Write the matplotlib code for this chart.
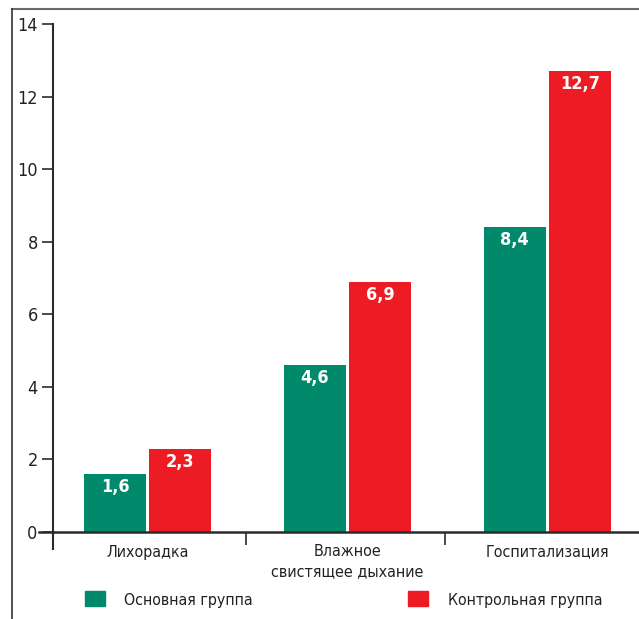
import matplotlib
matplotlib.use("Agg")
import matplotlib.pyplot as plt
from matplotlib.lines import Line2D
import numpy as np

categories = ["Лихорадка", "Влажное\nсвистящее дыхание", "Госпитализация"]
main_group = [1.6, 4.6, 8.4]
control_group = [2.3, 6.9, 12.7]
main_labels = ["1,6", "4,6", "8,4"]
control_labels = ["2,3", "6,9", "12,7"]
series_names = ["Основная группа", "Контрольная группа"]
yticks = [0, 2, 4, 6, 8, 10, 12, 14]

GREEN = "#00896B"
RED = "#ED1C24"
AXC = "#2b2b2b"
plt.rcParams["font.family"] = ["DejaVu Sans"]
plt.rcParams["font.stretch"] = "condensed"

W, H = 639, 619
fig = plt.figure(figsize=(W / 100, H / 100), dpi=100)
ax = fig.add_axes([53 / W, 1 - 532 / H, (W - 53) / W, (532 - 24) / H])

x = np.arange(len(categories))
bw = 0.31
off = 0.163
b1 = ax.bar(x - off, main_group, bw, color=GREEN, linewidth=0)
b2 = ax.bar(x + off, control_group, bw, color=RED, linewidth=0)

for bars, labels in ((b1, main_labels), (b2, control_labels)):
    for rect, lab in zip(bars, labels):
        ax.annotate(lab, (rect.get_x() + rect.get_width() / 2, rect.get_height()),
                    xytext=(0, -9.5), textcoords="offset points",
                    ha="center", va="center", color="white",
                    fontsize=13, fontweight="bold", fontstretch="condensed")

ax.set_xlim(-0.475, 2.46)
ax.set_ylim(0, 14)
ax.set_yticks(yticks)
ax.set_yticklabels([str(v) for v in yticks], fontsize=13, color="#222")
ax.tick_params(axis="y", direction="out", length=8, width=1.2, color=AXC, pad=3)

ax.set_xticks(x)
ax.set_xticklabels(categories, fontsize=11.5, color="#222", linespacing=1.35)
ax.tick_params(axis="x", which="major", length=0, pad=9)
ax.set_xticks([0.49, 1.49], minor=True)
ax.tick_params(axis="x", which="minor", direction="out", length=9, width=1.2, color=AXC)

for s in ("top", "right"):
    ax.spines[s].set_visible(False)
ax.spines["left"].set_color(AXC)
ax.spines["bottom"].set_color(AXC)
ax.spines["left"].set_linewidth(1.5)
ax.spines["bottom"].set_linewidth(1.8)
ax.spines["left"].set_bounds(0, 14)

# y-axis extension below zero and zero line extension to the left
ax.add_line(Line2D([0, 0], [0, -17 / 508], transform=ax.transAxes, color=AXC,
                   lw=1.5, clip_on=False))
ax.add_line(Line2D([-14 / 586, 0], [0, 0], transform=ax.transAxes, color=AXC,
                   lw=1.8, clip_on=False))

# frame lines
fig.add_artist(Line2D([12 / W, 1], [1 - 9 / H, 1 - 9 / H], color="#6a6a6a", lw=1.5))
fig.add_artist(Line2D([12 / W, 12 / W], [0, 1 - 9 / H], color="#333333", lw=1.2))

# legend
fig.patches.append(plt.Rectangle((85 / W, 1 - 606 / H), 20 / W, 15 / H,
                                 transform=fig.transFigure, color=GREEN, figure=fig))
fig.text(124 / W, 1 - 600.5 / H, series_names[0], fontsize=11.4, va="center", ha="left", color="#222")
fig.patches.append(plt.Rectangle((408 / W, 1 - 606 / H), 20 / W, 15 / H,
                                 transform=fig.transFigure, color=RED, figure=fig))
fig.text(448 / W, 1 - 600.5 / H, series_names[1], fontsize=11.4, va="center", ha="left", color="#222")

fig.savefig("out.png", dpi=100)
